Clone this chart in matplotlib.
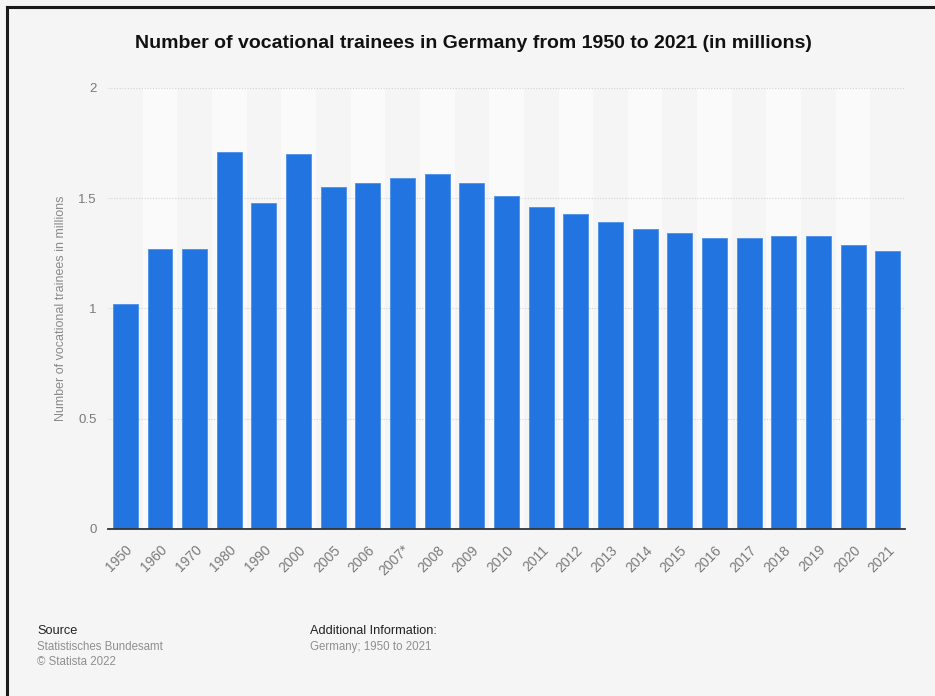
import matplotlib
matplotlib.use('Agg')
import matplotlib.pyplot as plt
from matplotlib.lines import Line2D
import numpy as np

# data
years = ['1950', '1960', '1970', '1980', '1990', '2000', '2005', '2006', '2007*',
         '2008', '2009', '2010', '2011', '2012', '2013', '2014', '2015', '2016',
         '2017', '2018', '2019', '2020', '2021']
trainees = [1.02, 1.27, 1.27, 1.71, 1.48, 1.70, 1.55, 1.57, 1.59,
            1.61, 1.57, 1.51, 1.46, 1.43, 1.39, 1.36, 1.34, 1.32,
            1.32, 1.33, 1.33, 1.29, 1.26]
yticks = [0, 0.5, 1, 1.5, 2]
ytick_labels = ['0', '0.5', '1', '1.5', '2']

plt.rcParams['font.family'] = ['Liberation Sans', 'DejaVu Sans']

bg = '#f5f5f5'
fig = plt.figure(figsize=(9.35, 6.96), dpi=100, facecolor=bg)
ax = fig.add_axes([0.1155, 0.240, 0.8525, 0.6336])
ax.set_facecolor(bg)

x = np.arange(len(years))
# alternating column bands
for i in x:
    if i % 2 == 1:
        ax.axvspan(i - 0.5, i + 0.5, color='#fafafa', zorder=0, lw=0)

for yv in yticks[1:]:
    ax.axhline(yv, color='#d2d2d2', lw=0.8, ls=(0, (1, 1.5)), zorder=1)

ax.bar(x, trainees, width=0.72, color='#2274e0', edgecolor='#4d8fe8',
       linewidth=0.6, zorder=2)

ax.set_xlim(-0.5, len(years) - 0.5)
ax.set_ylim(0, 2)
ax.set_yticks(yticks)
ax.set_yticklabels(ytick_labels)
ax.set_xticks(x)
ax.set_xticklabels(years, rotation=45, ha='right', rotation_mode='anchor')
ax.tick_params(axis='both', length=0, colors='#7a7a7a')
ax.tick_params(axis='y', pad=8, labelsize=9.5)
ax.tick_params(axis='x', pad=10, labelsize=10)

for s in ['top', 'right', 'left']:
    ax.spines[s].set_visible(False)
ax.spines['bottom'].set_color('#333333')
ax.spines['bottom'].set_linewidth(1.3)
ax.spines['bottom'].set_zorder(3)

ax.set_ylabel('Number of vocational trainees in millions', color='#8a8a8a',
              fontsize=9, labelpad=8)

fig.text(0.506, 0.937, 'Number of vocational trainees in Germany from 1950 to 2021 (in millions)',
         ha='center', va='center', fontsize=14, fontweight='bold', color='#111111')

# footer
fig.text(0.040, 0.0935, 'Source', fontsize=9.2, color='#222222', va='center')
fig.text(0.040, 0.0705, 'Statistisches Bundesamt', fontsize=8.3, color='#8f8f8f', va='center')
fig.text(0.040, 0.049, '\u00a9 Statista 2022', fontsize=8.3, color='#8f8f8f', va='center')
fig.text(0.332, 0.0935, 'Additional Information:', fontsize=9.2, color='#222222', va='center')
fig.text(0.332, 0.0705, 'Germany; 1950 to 2021', fontsize=8.3, color='#8f8f8f', va='center')

# frame on the top and left edge
fig.add_artist(Line2D([7 / 935, 1], [1 - 7 / 696, 1 - 7 / 696], color='#1a1a1a', lw=2.2,
                      transform=fig.transFigure))
fig.add_artist(Line2D([7 / 935, 7 / 935], [0, 1 - 7 / 696], color='#1a1a1a', lw=2.2,
                      transform=fig.transFigure))

fig.savefig('out.png', dpi=100, facecolor=bg)
